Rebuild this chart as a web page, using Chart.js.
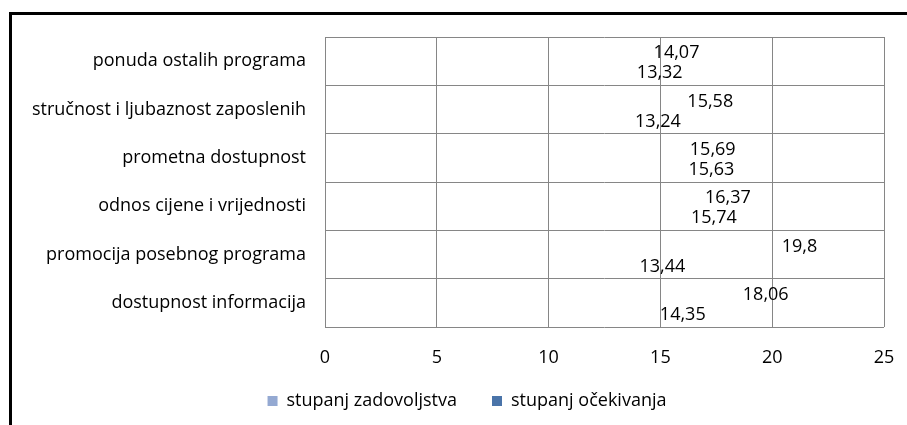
<!DOCTYPE html>
<html>
<head>
<meta charset="utf-8">
<script src="https://cdn.jsdelivr.net/npm/chart.js@4/dist/chart.umd.min.js"></script>
<style>
  html, body { margin: 0; padding: 0; background: #fff; }
  #wrap { position: relative; width: 907px; height: 425px; }
  #frame { position: absolute; left: 9px; top: 12px; right: -5px; bottom: -5px;
           border-left: 3px solid #000; border-top: 3px solid #000; }
  canvas { position: absolute; left: 0; top: 0; }
</style>
</head>
<body>
<div id="wrap">
  <div id="frame"></div>
  <canvas id="c" width="907" height="425"></canvas>
</div>
<script>
const categories = [
  'ponuda ostalih programa',
  'stručnost i ljubaznost zaposlenih',
  'prometna dostupnost',
  'odnos cijene i vrijednosti',
  'promocija posebnog programa',
  'dostupnost informacija'
];
const ocekivanja = [14.07, 15.58, 15.69, 16.37, 19.8, 18.06];
const zadovoljstvo = [13.32, 13.24, 15.63, 15.74, 13.44, 14.35];
const xTicks = [0, 5, 10, 15, 20, 25];

const FONT = '"Open Sans", Lato, sans-serif';
const SIZE = 18;
const colZad = '#94a9d2';
const colOce = '#4a74a9';

// value labels to the right of each (invisible) bar
const valueLabels = {
  id: 'valueLabels',
  afterLayout(chart) {
    // legend sits a bit right of centre and higher in the original
    const lg = chart.legend;
    lg.left += 25; lg.right += 25;
    lg.top -= 10; lg.bottom -= 10;
  },
  afterDatasetsDraw(chart) {
    const ctx = chart.ctx;
    ctx.save();
    ctx.font = SIZE + 'px ' + FONT;
    ctx.fillStyle = '#000';
    ctx.textAlign = 'left';
    ctx.textBaseline = 'middle';
    chart.data.datasets.forEach((ds, i) => {
      chart.getDatasetMeta(i).data.forEach((bar, j) => {
        const txt = String(ds.data[j]).replace('.', ',');
        ctx.fillText(txt, bar.x + 14, bar.y + 2);
      });
    });
    ctx.restore();
  }
};

new Chart(document.getElementById('c'), {
  type: 'bar',
  data: {
    labels: categories,
    datasets: [
      { label: 'stupanj očekivanja', data: ocekivanja, backgroundColor: 'rgba(0,0,0,0)' },
      { label: 'stupanj zadovoljstva', data: zadovoljstvo, backgroundColor: 'rgba(0,0,0,0)' }
    ]
  },
  options: {
    indexAxis: 'y',
    responsive: false,
    animation: false,
    categoryPercentage: 0.83,
    barPercentage: 1,
    layout: { padding: { top: 37, right: 23, bottom: -5, left: 0 } },
    scales: {
      x: {
        min: 0, max: 25,
        afterBuildTicks: s => { s.ticks = xTicks.map(v => ({ value: v })); },
        grid: { color: '#868686', lineWidth: 1, drawTicks: false },
        border: { display: false },
        ticks: { color: '#000', font: { family: FONT, size: SIZE }, padding: 20 },
        afterFit: s => { s.height = 40; s.paddingRight = 0; s.paddingLeft = 0; }
      },
      y: {
        grid: { color: '#868686', lineWidth: 1, drawTicks: false },
        border: { display: false },
        ticks: { color: '#000', font: { family: FONT, size: SIZE }, padding: 19 },
        afterFit: s => { s.width = 325; }
      }
    },
    plugins: {
      tooltip: { enabled: false },
      legend: {
        position: 'bottom',
        labels: {
          color: '#000',
          font: { family: FONT, size: SIZE },
          boxWidth: 10,
          boxHeight: 10,
          padding: 35,
          generateLabels: () => [
            { text: 'stupanj zadovoljstva', fillStyle: colZad, strokeStyle: colZad, lineWidth: 0, fontColor: '#000' },
            { text: 'stupanj očekivanja', fillStyle: colOce, strokeStyle: colOce, lineWidth: 0, fontColor: '#000' }
          ]
        }
      }
    }
  },
  plugins: [valueLabels]
});
</script>
</body>
</html>
